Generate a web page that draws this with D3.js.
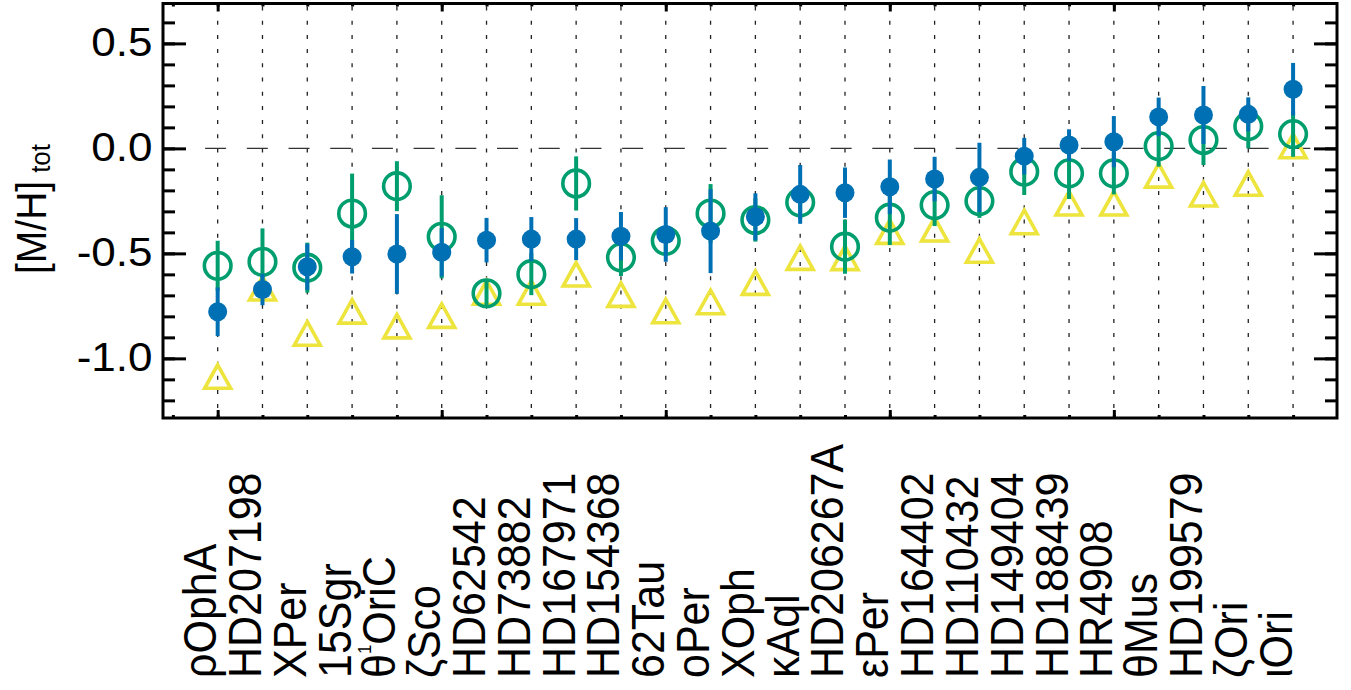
<!DOCTYPE html>
<html><head><meta charset="utf-8">
<script src="https://cdn.jsdelivr.net/npm/d3@7"></script>
<style>
body{margin:0;background:#fff}
svg{display:block}
text{font-family:"Liberation Sans",Arial,Helvetica,sans-serif;fill:#000}
</style>
</head><body>
<svg id="chart" width="1351" height="690"></svg>
<script>
// ---- data ----
const stars = ["ρOphA","HD207198","XPer","15Sgr","θ^1OriC","ζSco","HD62542","HD73882","HD167971","HD154368",
  "62Tau","oPer","XOph","κAql","HD206267A","εPer","HD164402","HD110432","HD149404","HD188439",
  "HR4908","θMus","HD199579","ζOri","ιOri"];
// filled blue circles
const filledValues = [-0.778,-0.672,-0.564,-0.516,-0.503,-0.495,-0.437,-0.432,-0.432,-0.418,
  -0.410,-0.394,-0.326,-0.219,-0.211,-0.183,-0.146,-0.138,-0.037,0.016,
  0.032,0.150,0.159,0.162,0.282];
const filledErrors = [0.116,0.075,0.110,0.080,0.190,0.115,0.106,0.105,0.100,0.115,
  0.130,0.200,0.112,0.140,0.120,0.130,0.106,0.165,0.087,0.075,
  0.122,0.092,0.138,0.081,0.125];
// open green circles
const openValues = [-0.559,-0.540,-0.568,-0.310,-0.180,-0.421,-0.690,-0.599,-0.167,-0.519,
  -0.440,-0.310,-0.341,-0.257,-0.468,-0.330,-0.270,-0.251,-0.111,-0.119,
  -0.119,0.011,0.040,0.106,0.068];
const openErrors = [0.119,0.159,0.119,0.190,0.119,0.198,0.063,0.100,0.129,0.089,
  0.070,0.140,0.103,0.080,0.129,0.130,0.100,0.080,0.111,0.122,
  0.100,0.098,0.119,0.106,0.108];
// yellow triangles
const triangleValues = [-1.090,-0.670,-0.885,-0.780,-0.850,-0.800,-0.690,-0.690,-0.603,-0.700,
  -0.778,-0.735,-0.643,-0.524,-0.525,-0.400,-0.389,-0.490,-0.354,-0.265,
  -0.265,-0.132,-0.222,-0.171,0.008];
const yTickValues = [-1.0,-0.5,0.0,0.5];
const yTickLabels = ["-1.0","-0.5","0.0","0.5"];
const yMinorTicks = d3.range(-12,7).map(v=>v/10);
const xMajorTicks = [0,5,10,15,20];
const xMinorTicks = d3.range(-1,25);
const yTitle = "[M/H]";
const yTitleSub = "tot";

// ---- colours ----
const BLUE = "#0070b4", GREEN = "#009e6e", YELLOW = "#ede43e";

const svg = d3.select("#chart");
const L = 163, R = 1337, T = 3.5, B = 418;
const x = d3.scaleLinear().domain([-1.22, 24.98]).range([L, R]);
const y = d3.scaleLinear().domain([-1.284, 0.69]).range([B, T]);

// grid (dotted verticals)
svg.append("g").selectAll("line").data(stars).join("line")
  .attr("x1",(d,i)=>x(i)).attr("x2",(d,i)=>x(i))
  .attr("y1",T+3).attr("y2",B)
  .attr("stroke","#222").attr("stroke-width",1.3).attr("stroke-dasharray","4,10.2");

// zero dashed line
svg.append("line")
  .attr("x1",x(-0.28)).attr("x2",x(24.4))
  .attr("y1",y(0)).attr("y2",y(0))
  .attr("stroke","#333").attr("stroke-width",1.3).attr("stroke-dasharray","21,20.7");

// triangles (yellow)
svg.append("g").selectAll("path").data(triangleValues).join("path")
  .attr("transform",(d,i)=>`translate(${x(i)},${y(d)})`)
  .attr("d","M0,-12.5 L13,11 L-13,11 Z")
  .attr("fill","none").attr("stroke",YELLOW).attr("stroke-width",3.6).attr("stroke-linejoin","miter");

// open circles (green)
const gOpen = svg.append("g");
gOpen.selectAll("line").data(openValues).join("line")
  .attr("x1",(d,i)=>x(i)).attr("x2",(d,i)=>x(i))
  .attr("y1",(d,i)=>y(d-openErrors[i])).attr("y2",(d,i)=>y(d+openErrors[i]))
  .attr("stroke",GREEN).attr("stroke-width",4);
gOpen.selectAll("circle").data(openValues).join("circle")
  .attr("cx",(d,i)=>x(i)).attr("cy",d=>y(d)).attr("r",13.3)
  .attr("fill","none").attr("stroke",GREEN).attr("stroke-width",3.6);

// filled circles (blue)
const gFill = svg.append("g");
gFill.selectAll("line").data(filledValues).join("line")
  .attr("x1",(d,i)=>x(i)).attr("x2",(d,i)=>x(i))
  .attr("y1",(d,i)=>y(d-filledErrors[i])).attr("y2",(d,i)=>y(d+filledErrors[i]))
  .attr("stroke",BLUE).attr("stroke-width",4);
gFill.selectAll("circle").data(filledValues).join("circle")
  .attr("cx",(d,i)=>x(i)).attr("cy",d=>y(d)).attr("r",9.5)
  .attr("fill",BLUE);

// axes ticks (inward)
function ticks(axis, sel, size){
  const g = svg.append("g").attr("transform",sel).call(axis.tickSize(size).tickFormat(""));
  g.select(".domain").remove();
  g.selectAll("line").attr("stroke","#000").attr("stroke-width",3);
}
ticks(d3.axisLeft(y).tickValues(yMinorTicks), `translate(${L},0)`, -12);
ticks(d3.axisLeft(y).tickValues(yTickValues), `translate(${L},0)`, -23);
ticks(d3.axisRight(y).tickValues(yMinorTicks), `translate(${R},0)`, -12);
ticks(d3.axisRight(y).tickValues(yTickValues), `translate(${R},0)`, -23);
ticks(d3.axisBottom(x).tickValues(xMinorTicks), `translate(0,${B})`, -3);
ticks(d3.axisBottom(x).tickValues(xMajorTicks), `translate(0,${B})`, -8);
ticks(d3.axisTop(x).tickValues(xMinorTicks), `translate(0,${T})`, -3);
ticks(d3.axisTop(x).tickValues(xMajorTicks), `translate(0,${T})`, -8);

// frame
svg.append("rect").attr("x",L).attr("y",T).attr("width",R-L).attr("height",B-T)
  .attr("fill","none").attr("stroke","#000").attr("stroke-width",3);

// y tick labels
svg.append("g").selectAll("text").data(yTickValues).join("text")
  .attr("transform",d=>`translate(152.5,${y(d)+12.7}) scale(1.1,1)`)
  .attr("text-anchor","end").attr("font-size",40)
  .text((d,i)=>yTickLabels[i]);

// y title
const yt = svg.append("text")
  .attr("transform","translate(46,274) scale(1.07,1) rotate(-90)")
  .attr("font-size",39);
yt.append("tspan").text(yTitle);
yt.append("tspan").attr("font-size",26).attr("dx",8).attr("dy",4).text(yTitleSub);

// x category labels (rotated)
const lab = svg.append("g").selectAll("text").data(stars).join("text")
  .attr("transform",(d,i)=>`translate(${x(i)-1.5},678) scale(1.07,1) rotate(-90)`)
  .attr("font-size",43);
lab.each(function(d){
  const t = d3.select(this);
  const k = d.indexOf("^");
  if(k<0){ t.text(d); return; }
  t.append("tspan").text(d.slice(0,k));
  t.append("tspan").attr("font-size",17).attr("dy",-23).text(d[k+1]);
  t.append("tspan").attr("dy",23).text(d.slice(k+2));
});
</script>
</body></html>
